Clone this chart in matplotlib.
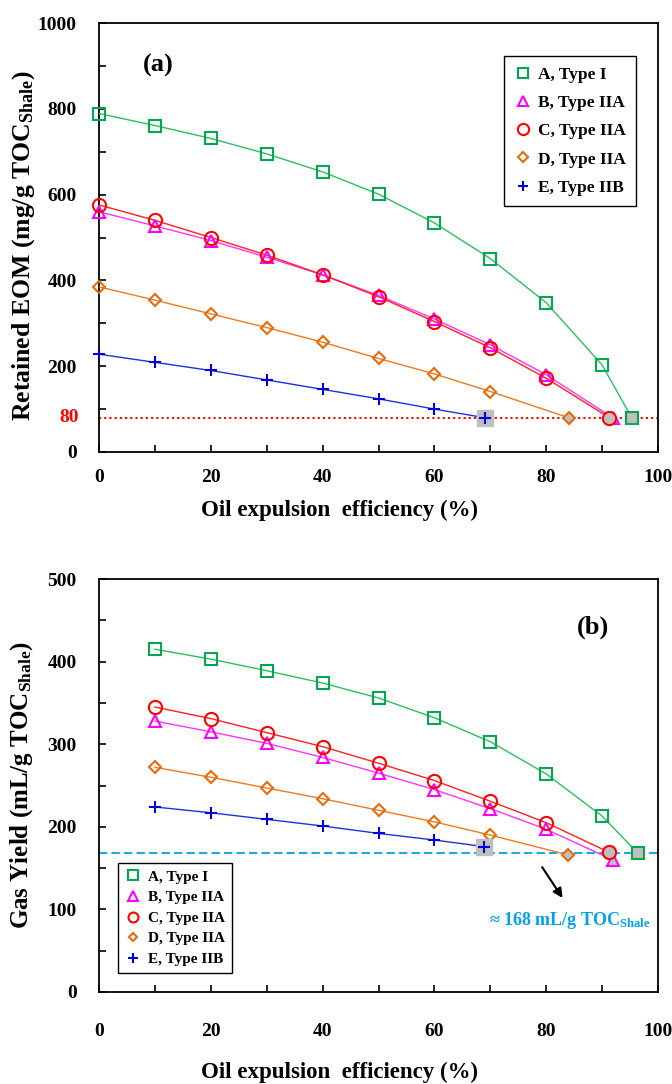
import matplotlib
matplotlib.use("Agg")
import matplotlib.pyplot as plt
from matplotlib.ticker import MultipleLocator
from matplotlib.lines import Line2D
import matplotlib.transforms as mtransforms

plt.rcParams['font.family'] = ['Liberation Serif', 'DejaVu Serif']
plt.rcParams['font.weight'] = 'bold'
plt.rcParams['mathtext.fontset'] = 'custom'
plt.rcParams['mathtext.rm'] = 'Liberation Serif:bold'
plt.rcParams['mathtext.bf'] = 'Liberation Serif:bold'
plt.rcParams['mathtext.it'] = 'Liberation Serif:bold'

# ---------------- data: panel (a) retained EOM ----------------
labels = ['A, Type I', 'B, Type IIA', 'C, Type IIA', 'D, Type IIA', 'E, Type IIB']
a_x_A = [0, 10, 20, 30, 40, 50, 60, 70, 80, 90, 95.3]
a_y_A = [789, 761, 731, 695, 653, 601, 534, 451, 348, 203, 80]
a_x_B = [0, 10, 20, 30, 40, 50, 60, 70, 80, 91.9]
a_y_B = [560, 527, 493, 454, 413, 365, 310, 250, 180, 80]
a_x_C = [0, 10, 20, 30, 40, 50, 60, 70, 80, 91.3]
a_y_C = [576, 540, 500, 459, 413, 362, 304, 243, 172, 80]
a_x_D = [0, 10, 20, 30, 40, 50, 60, 70, 84.0]
a_y_D = [385, 354, 322, 290, 256, 218, 182, 141, 80]
a_x_E = [0, 10, 20, 30, 40, 50, 60, 69.0]
a_y_E = [228, 209, 190, 168, 146, 124, 100, 80]
a_threshold = 80

# ---------------- data: panel (b) gas yield ----------------
b_x_A = [10, 20, 30, 40, 50, 60, 70, 80, 90, 96.4]
b_y_A = [415, 403, 389, 374, 356, 332, 303, 264, 213, 168]
b_x_B = [10, 20, 30, 40, 50, 60, 70, 80, 91.9]
b_y_B = [328, 315, 301, 284, 265, 245, 222, 197, 160]
b_x_C = [10, 20, 30, 40, 50, 60, 70, 80, 91.3]
b_y_C = [345, 331, 314, 297, 277, 256, 231, 205, 169]
b_x_D = [10, 20, 30, 40, 50, 60, 70, 83.9]
b_y_D = [272, 260, 247, 234, 220, 206, 190, 166]
b_x_E = [10, 20, 30, 40, 50, 60, 68.9]
b_y_E = [224, 217, 209, 201, 192, 184, 176]
b_threshold = 168

colors = ['#00A651', '#FF00FF', '#FF0000', '#E46C0A', '#0000DD']
line_colors = ['#2DBE60', '#FF33FF', '#FF2020', '#EE7A20', '#2030DD']
markers = ['s', '^', 'o', 'D', '+']
msizes = [9, 9, 9.5, 6, 9]
gray = '#BFBFBF'

fig = plt.figure(figsize=(6.72, 10.84), dpi=100)
ax1 = fig.add_axes([99/672, 1-452/1084, 559/672, 429/1084])
ax2 = fig.add_axes([99/672, 1-992/1084, 559/672, 413/1084])


def draw(ax, xs, ys):
    for i, (x, y) in enumerate(zip(xs, ys)):
        ax.plot(x, y, '-', color=line_colors[i], lw=1.0, zorder=3)
        ax.plot(x[:-1], y[:-1], linestyle='none', marker=markers[i], ms=msizes[i],
                mfc='none', mec=colors[i], mew=1.5, zorder=4, clip_on=False)
        if markers[i] == '+':
            ax.plot(x[-1], y[-1], linestyle='none', marker='s', ms=11,
                    mfc=gray, mec=gray, zorder=4)
            ax.plot(x[-1], y[-1], linestyle='none', marker='+', ms=msizes[i],
                    mec=colors[i], mew=1.5, zorder=5)
        else:
            ax.plot(x[-1], y[-1], linestyle='none', marker=markers[i], ms=msizes[i],
                    mfc=gray, mec=colors[i], mew=1.5, zorder=5)


def style(ax, ymax, ymaj, ymin, pad):
    ax.set_xlim(0, 100)
    ax.set_ylim(0, ymax)
    ax.xaxis.set_major_locator(MultipleLocator(20))
    ax.xaxis.set_minor_locator(MultipleLocator(10))
    ax.yaxis.set_major_locator(MultipleLocator(ymaj))
    ax.yaxis.set_minor_locator(MultipleLocator(ymin))
    ax.tick_params(which='both', direction='in', length=5, width=1.2,
                   top=False, right=False)
    ax.tick_params(axis='y', which='major', labelsize=14, pad=16)
    ax.tick_params(axis='x', which='major', labelsize=14, pad=pad)
    for s in ax.spines.values():
        s.set_linewidth(1.3)
    for lab in ax.get_xticklabels() + ax.get_yticklabels():
        lab.set_fontweight('bold')


def legend(ax, anchor, fs, ms_scale, ls, borderpad, tpad):
    handles = [Line2D([], [], linestyle='none', marker=markers[i],
                      ms=msizes[i] * ms_scale, mfc='none', mec=colors[i], mew=1.5)
               for i in range(5)]
    leg = ax.legend(handles, labels, loc='upper left', bbox_to_anchor=anchor,
                    frameon=True, fancybox=False, framealpha=1, edgecolor='black',
                    prop={'family': 'Liberation Serif', 'weight': 'bold', 'size': fs},
                    labelspacing=ls, handlelength=1.0, handletextpad=tpad,
                    borderpad=borderpad, borderaxespad=0)
    leg.get_frame().set_linewidth(1.0)
    return leg

# ---------------- panel (a) ----------------
draw(ax1, [a_x_A, a_x_B, a_x_C, a_x_D, a_x_E], [a_y_A, a_y_B, a_y_C, a_y_D, a_y_E])
ax1.axhline(a_threshold, color='#FF0000', lw=1.5, ls=(0, (1, 1.5)), zorder=2)
style(ax1, 1000, 200, 100, 12)
trans = mtransforms.blended_transform_factory(ax1.transAxes, ax1.transData)
ax1.text(-0.036, a_threshold, str(a_threshold), transform=trans, ha='right', va='center',
         color='#FF0000', fontsize=14, fontweight='bold')
ax1.text(10.6, 900, '(a)', fontsize=19, fontweight='bold', ha='center', va='center')
ax1.set_ylabel(r'Retained EOM (mg/g TOC$_{\mathbf{Shale}}$)', fontsize=18.5, fontweight='bold')
ax1.yaxis.set_label_coords(-0.111, 0.48)
ax1.set_xlabel('Oil expulsion  efficiency (%)', fontsize=16.5, fontweight='bold')
ax1.xaxis.set_label_coords(0.43, -0.112)
legend(ax1, (0.7245, 0.923), 12.5, 0.85, 0.7, 0.6, 0.35)

# ---------------- panel (b) ----------------
draw(ax2, [b_x_A, b_x_B, b_x_C, b_x_D, b_x_E], [b_y_A, b_y_B, b_y_C, b_y_D, b_y_E])
ax2.axhline(b_threshold, color='#1CA9E6', lw=1.5, ls=(0, (4, 2)), zorder=2)
style(ax2, 500, 100, 50, 22)
ax2.text(88.4, 442, '(b)', fontsize=19, fontweight='bold', ha='center', va='center')
ax2.annotate('', xy=(83.2, 111), xytext=(79.0, 154),
             arrowprops=dict(arrowstyle='-|>', color='black', lw=1.5, mutation_scale=14))
ax2.text(84.3, 87, r'≈ 168 mL/g TOC$_{\mathbf{Shale}}$', color='#00A0E8', fontsize=13,
         fontweight='bold', ha='center', va='center')
ax2.set_ylabel(r'Gas Yield (mL/g TOC$_{\mathbf{Shale}}$)', fontsize=18, fontweight='bold')
ax2.yaxis.set_label_coords(-0.1145, 0.5)
ax2.set_xlabel('Oil expulsion  efficiency (%)', fontsize=16.5, fontweight='bold')
ax2.xaxis.set_label_coords(0.43, -0.169)
legend(ax2, (0.034, 0.312), 11, 0.75, 0.45, 0.45, 0.5)

fig.savefig('out.png', dpi=100)
